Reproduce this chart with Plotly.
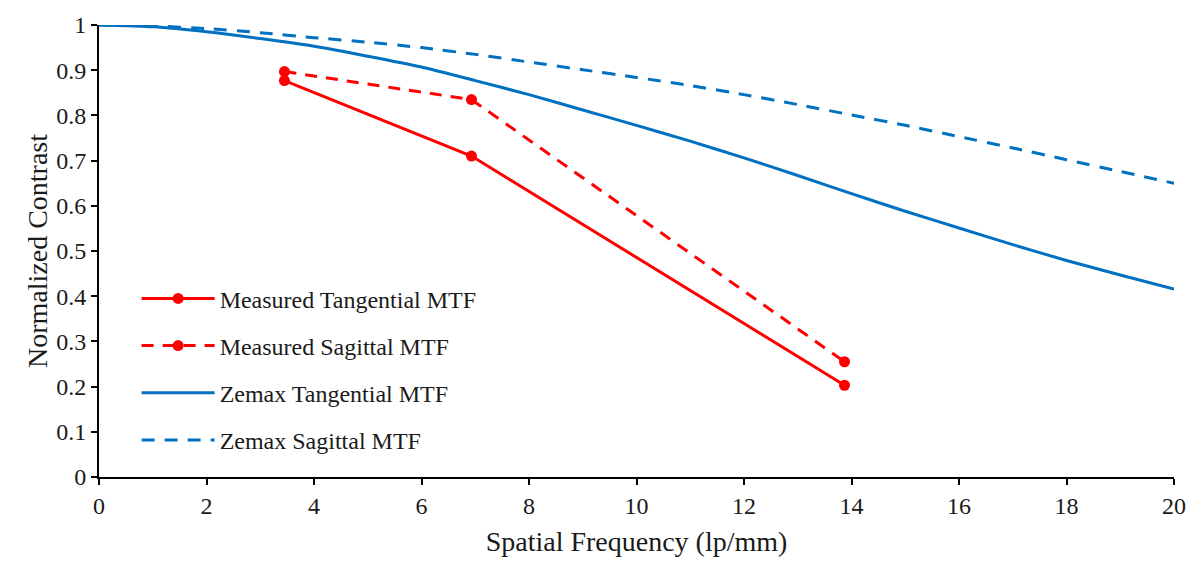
import plotly.graph_objects as go

meas_x = [3.45, 6.93, 13.87]
meas_tan = [0.877, 0.710, 0.203]
meas_sag = [0.897, 0.835, 0.255]

zem_x = list(range(0, 21))
zem_tan = [1.0, 0.996, 0.985, 0.970, 0.953, 0.931, 0.907, 0.877, 0.846, 0.812, 0.778,
           0.743, 0.706, 0.667, 0.627, 0.588, 0.551, 0.514, 0.479, 0.447, 0.416]
zem_sag = [1.0, 0.998, 0.992, 0.983, 0.972, 0.962, 0.950, 0.935, 0.918, 0.901, 0.884,
           0.866, 0.846, 0.824, 0.801, 0.778, 0.753, 0.728, 0.702, 0.676, 0.650]

RED = "#FF0000"
BLUE = "#0070C0"
FONT = "Liberation Serif"
TXT = "#1a1a1a"

fig = go.Figure()
fig.add_trace(go.Scatter(x=meas_x, y=meas_tan, mode="lines+markers", name="Measured Tangential MTF",
                         line=dict(color=RED, width=3), marker=dict(size=11, color=RED),
                         legendgroup="a"))
fig.add_trace(go.Scatter(x=meas_x, y=meas_sag, mode="lines+markers", name="Measured Sagittal MTF",
                         line=dict(color=RED, width=3, dash="12px,9px"), marker=dict(size=11, color=RED),
                         legendgroup="b"))
fig.add_trace(go.Scatter(x=zem_x, y=zem_tan, mode="lines", name="Zemax Tangential MTF",
                         line=dict(color=BLUE, width=3, shape="spline", smoothing=0.6), legendgroup="c"))
fig.add_trace(go.Scatter(x=zem_x, y=zem_sag, mode="lines", name="Zemax Sagittal MTF",
                         line=dict(color=BLUE, width=3, dash="13px,10px", shape="spline", smoothing=0.6),
                         legendgroup="d"))

fig.update_layout(
    width=1198, height=564,
    margin=dict(l=99, r=21, t=20, b=87),
    paper_bgcolor="white", plot_bgcolor="white",
    font=dict(family=FONT, size=24, color=TXT),
    legend=dict(x=0.035, y=0.444, xanchor="left", yanchor="top", bgcolor="rgba(0,0,0,0)",
                font=dict(family=FONT, size=24, color=TXT), tracegroupgap=13,
                itemwidth=73),
    showlegend=True,
)
fig.update_xaxes(range=[0, 20], tickvals=list(range(0, 21, 2)), showgrid=False, zeroline=False,
                 showline=True, linecolor="black", linewidth=2, ticks="outside", ticklen=6,
                 tickwidth=2, tickcolor="black", tickfont=dict(family=FONT, size=24, color=TXT),
                 title=dict(text="Spatial Frequency (lp/mm)", font=dict(family=FONT, size=28, color=TXT),
                            standoff=14))
fig.update_yaxes(range=[0, 1], tickvals=[i / 10 for i in range(11)],
                 ticktext=["0", "0.1", "0.2", "0.3", "0.4", "0.5", "0.6", "0.7", "0.8", "0.9", "1"],
                 showgrid=False, zeroline=False,
                 showline=True, linecolor="black", linewidth=2, ticks="outside", ticklen=6,
                 tickwidth=2, tickcolor="black", tickfont=dict(family=FONT, size=24, color=TXT),
                 title=dict(text="Normalized Contrast", font=dict(family=FONT, size=28, color=TXT),
                            standoff=0))

fig.write_html("out.html")
